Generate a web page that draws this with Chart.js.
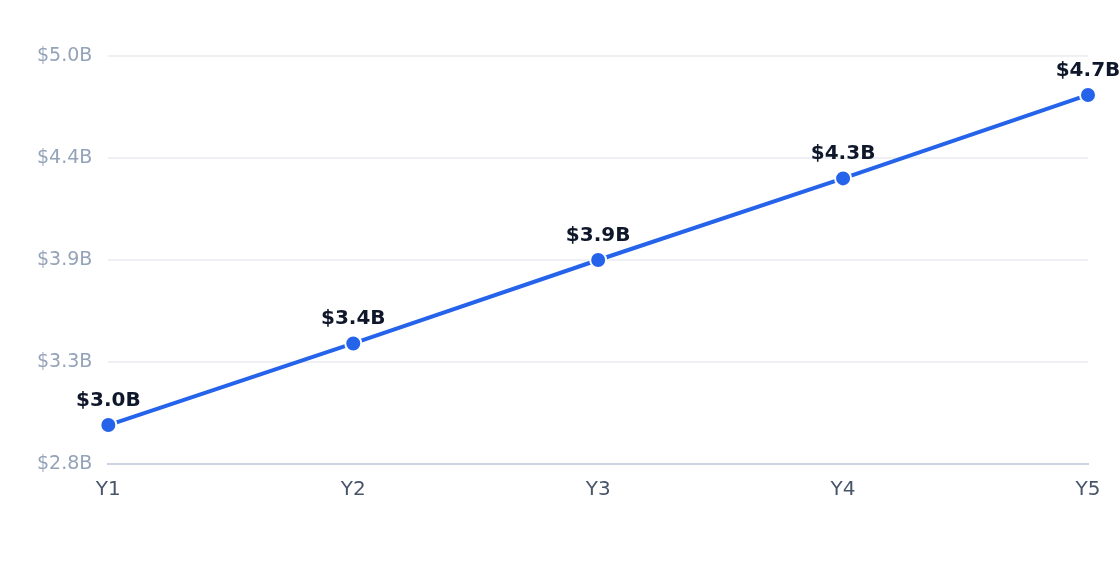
<!DOCTYPE html>
<html><head><meta charset="utf-8">
<script src="https://cdn.jsdelivr.net/npm/chart.js@4"></script>
<style>html,body{margin:0;padding:0;background:#fff}#w{width:1120px;height:572px}</style>
</head><body><div id="w"><canvas id="c"></canvas></div>
<script>
const categories = ["Y1","Y2","Y3","Y4","Y5"];
const revenue = [3.01, 3.45, 3.90, 4.34, 4.79];
const pointLabels = ["$3.0B","$3.4B","$3.9B","$4.3B","$4.7B"];
const yTicks = [2.8, 3.35, 3.9, 4.45, 5.0];
const yTickLabels = ["$2.8B","$3.3B","$3.9B","$4.4B","$5.0B"];

const labelPlugin = {
  id: 'pl',
  afterDatasetsDraw(chart) {
    const ctx = chart.ctx;
    const meta = chart.getDatasetMeta(0);
    ctx.save();
    ctx.font = 'bold 20px "DejaVu Sans"';
    ctx.fillStyle = '#0f172a';
    ctx.textAlign = 'center';
    ctx.textBaseline = 'alphabetic';
    meta.data.forEach((p, i) => ctx.fillText(pointLabels[i], p.x, p.y - 19));
    ctx.restore();
  }
};

new Chart(document.getElementById('c'), {
  type: 'line',
  data: { labels: categories, datasets: [{
    data: revenue, borderColor: '#2563eb', borderWidth: 4,
    pointRadius: 8, pointHoverRadius: 8, pointBackgroundColor: '#2563eb',
    pointBorderColor: '#ffffff', pointBorderWidth: 2, tension: 0, clip: false
  }]},
  options: {
    responsive: true, maintainAspectRatio: false, animation: false,
    layout: { padding: { top: 56, right: 32, bottom: 56, left: 21 } },
    plugins: { legend: { display: false }, tooltip: { enabled: false } },
    scales: {
      x: { offset: false, grid: { display: false, drawTicks: false },
        border: { color: '#cbd5e1', width: 2 },
        ticks: { color: '#475569', font: { size: 20, family: '"DejaVu Sans"' }, padding: 14 } },
      y: { min: 2.8, max: 5.0,
        afterBuildTicks: s => { s.ticks = yTicks.map(v => ({ value: v })); },
        grid: { color: '#eef0f3', lineWidth: 2, drawTicks: false },
        border: { display: false },
        ticks: { color: '#94a3b8', font: { size: 19, family: '"DejaVu Sans"' }, padding: 16,
          callback: (v, i) => yTickLabels[i] } }
    }
  },
  plugins: [labelPlugin]
});
</script></body></html>
